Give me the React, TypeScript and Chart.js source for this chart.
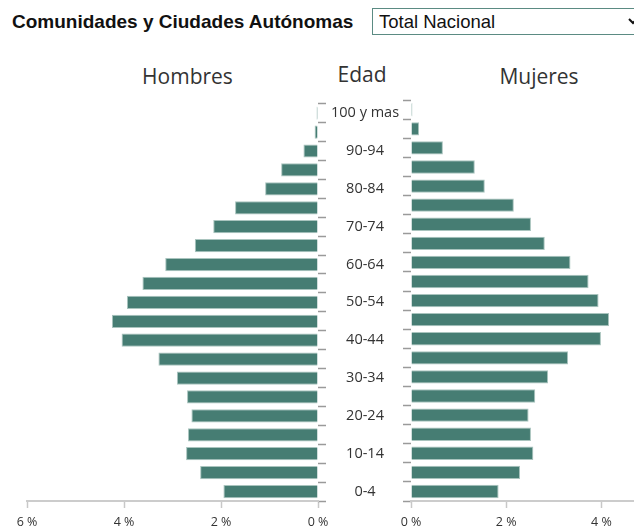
import React, { useEffect, useRef } from 'react';
import { Chart, registerables } from 'chart.js';

Chart.register(...registerables);

// ---- data ----
const ageGroups = [
  '100 y mas', '95-99', '90-94', '85-89', '80-84', '75-79', '70-74', '65-69',
  '60-64', '55-59', '50-54', '45-49', '40-44', '35-39', '30-34', '25-29',
  '20-24', '15-19', '10-14', '5-9', '0-4',
];
const hombres = [
  0.03, 0.07, 0.30, 0.76, 1.09, 1.71, 2.16, 2.54, 3.15, 3.62, 3.94,
  4.25, 4.05, 3.29, 2.91, 2.70, 2.61, 2.68, 2.72, 2.43, 1.95,
];
const mujeres = [
  0.03, 0.17, 0.67, 1.34, 1.55, 2.16, 2.52, 2.81, 3.35, 3.73, 3.94,
  4.16, 3.99, 3.30, 2.88, 2.61, 2.47, 2.52, 2.57, 2.29, 1.84,
];
const xMin = 0;
const xMax = 6;
const xStep = 2;

const BAR_FILL = '#467d73';
const BAR_BORDER = '#a9c4be';
const FONT = "'Open Sans', sans-serif";

function baseDataset(values: number[]) {
  return {
    data: values,
    backgroundColor: BAR_FILL,
    borderColor: BAR_BORDER,
    borderWidth: 1,
    barPercentage: 0.7,
    categoryPercentage: 1,
  };
}

function xScale(reverse: boolean) {
  return {
    type: 'linear' as const,
    reverse,
    min: xMin,
    max: xMax,
    position: 'bottom' as const,
    ticks: {
      stepSize: xStep,
      callback: (v: any) => `${v} %`,
      color: '#333',
      font: { family: FONT, size: 12.5 },
      padding: 7,
      maxRotation: 0,
    },
    grid: {
      drawOnChartArea: false,
      drawTicks: true,
      tickLength: 7,
      tickColor: '#c8c8c8',
      tickWidth: 1.5,
    },
    border: { display: true, color: '#cccccc', width: 2 },
  };
}

const CANVAS_TOP = 90;
const CANVAS_H = 447;

export default function App() {
  const leftRef = useRef<HTMLCanvasElement>(null);
  const rightRef = useRef<HTMLCanvasElement>(null);

  useEffect(() => {
    const left = new Chart(leftRef.current!, {
      type: 'bar',
      data: { labels: ageGroups, datasets: [baseDataset(hombres) as any] },
      options: {
        indexAxis: 'y',
        responsive: false,
        animation: false,
        layout: { padding: { left: 27, top: 8, right: 0, bottom: 0 } },
        plugins: { legend: { display: false }, tooltip: { enabled: false } },
        scales: {
          x: xScale(true) as any,
          y: {
            type: 'category',
            position: 'right',
            ticks: {
              autoSkip: false,
              crossAlign: 'center',
              padding: 5,
              color: '#333',
              font: { family: FONT, size: 14.5 },
              callback: (_v: any, i: number) => (i % 2 === 0 ? ageGroups[i] : ''),
            },
            grid: {
              offset: true,
              drawOnChartArea: false,
              drawTicks: true,
              tickLength: 8,
              tickColor: '#9a9a9a',
              tickWidth: 1.5,
            },
            border: { display: false },
            afterFit: (s: any) => {
              s.width = 93;
            },
          } as any,
        },
      },
    });

    const right = new Chart(rightRef.current!, {
      type: 'bar',
      data: { labels: ageGroups, datasets: [baseDataset(mujeres) as any] },
      options: {
        indexAxis: 'y',
        responsive: false,
        animation: false,
        layout: { padding: { left: 13, top: 8, right: 12, bottom: 0 } },
        plugins: { legend: { display: false }, tooltip: { enabled: false } },
        scales: {
          x: xScale(false) as any,
          y: {
            type: 'category',
            position: 'left',
            ticks: {
              autoSkip: false,
              callback: () => '',
            },
            grid: {
              offset: true,
              drawOnChartArea: false,
              drawTicks: true,
              tickLength: 8,
              tickColor: '#9a9a9a',
              tickWidth: 1.5,
            },
            border: { display: false },
            afterFit: (s: any) => {
              s.width = 8;
            },
          } as any,
        },
      },
    });

    return () => {
      left.destroy();
      right.destroy();
    };
  }, []);

  const heading: React.CSSProperties = {
    position: 'absolute',
    width: 140,
    textAlign: 'center',
    fontFamily: FONT,
    fontSize: 21,
    lineHeight: '21px',
    color: '#333',
    whiteSpace: 'nowrap',
  };

  return (
    <div
      style={{
        position: 'fixed',
        left: 0,
        top: 0,
        width: 634,
        height: 529,
        overflow: 'hidden',
        background: '#fff',
      }}
    >
      <div
        style={{
          position: 'absolute',
          left: 12,
          top: 12,
          fontFamily: "'Liberation Sans', Arial, sans-serif",
          fontWeight: 'bold',
          fontSize: 19,
          lineHeight: '19px',
          color: '#111',
          whiteSpace: 'nowrap',
        }}
      >
        Comunidades y Ciudades Autónomas
      </div>
      <select
        defaultValue="total"
        style={{
          position: 'absolute',
          left: 372,
          top: 8,
          width: 270,
          height: 27,
          boxSizing: 'border-box',
          border: '1px solid #5b8b83',
          borderRadius: 0,
          background: '#fff',
          fontFamily: "'Liberation Sans', Arial, sans-serif",
          fontSize: 18.5,
          color: '#111',
          paddingLeft: 2,
          outline: 'none',
        }}
      >
        <option value="total">Total Nacional</option>
      </select>

      <div style={{ ...heading, left: 187.5 - 70, top: 65.5 }}>Hombres</div>
      <div style={{ ...heading, left: 362 - 70, top: 63.5 }}>Edad</div>
      <div style={{ ...heading, left: 539 - 70, top: 65.5 }}>Mujeres</div>

      <canvas
        ref={leftRef}
        width={411}
        height={CANVAS_H}
        style={{ position: 'absolute', left: 0, top: CANVAS_TOP, width: 411, height: CANVAS_H }}
      />
      <canvas
        ref={rightRef}
        width={324}
        height={CANVAS_H}
        style={{ position: 'absolute', left: 390, top: CANVAS_TOP, width: 324, height: CANVAS_H }}
      />
    </div>
  );
}
